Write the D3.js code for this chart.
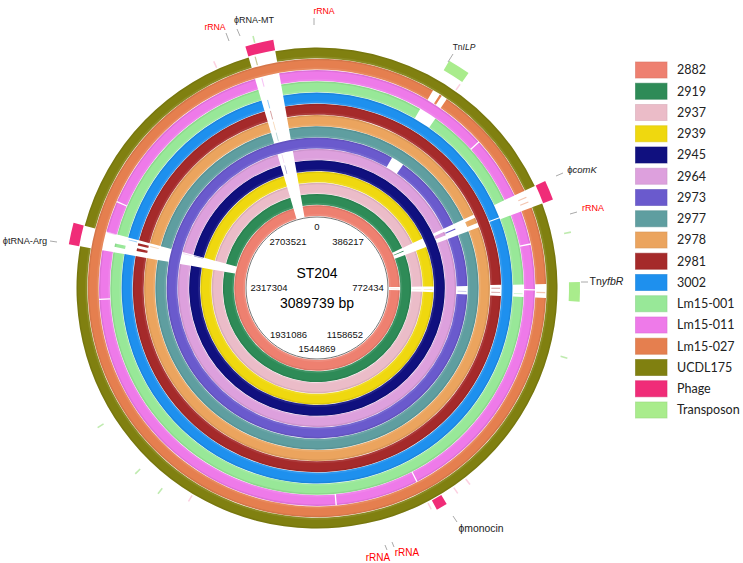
<!DOCTYPE html>
<html>
<head>
<meta charset="utf-8">
<script src="https://cdn.jsdelivr.net/npm/d3@7"></script>
<style>
  html, body { margin: 0; padding: 0; background: #fff; }
  svg { display: block; }
</style>
</head>
<body>
<div id="chart"></div>
<script>
// Strains, inner ring first
const strains = ["2882", "2919", "2937", "2939", "2945", "2964", "2973", "2977", "2978", "2981", "3002", "Lm15-001", "Lm15-011", "Lm15-027", "UCDL175"]
const strainColors = ["#ee8070", "#2e8b57", "#ebbcc8", "#efd80f", "#10107f", "#dda0dd", "#6a5acd", "#5f9ea0", "#eba45e", "#a52a2a", "#1e90ee", "#98e898", "#ee7ae9", "#e57f4f", "#808010"]

// Genome size and the ticks inside the circle
const genomeSize = 3089739
const tickLabels = ["0", "386217", "772434", "1158652", "1544869", "1931086", "2317304", "2703521"]

// Regions missing from each strain, in bp
const gaps2882 = [[766000, 786000], [2948000, 3004000]]
const gaps2919 = [[557000, 572000], [576000, 596000], [2403000, 2446000], [2948000, 3004000]]
const gaps2937 = [[557000, 596000], [766000, 790000], [2403000, 2446000], [2948000, 3004000]]
const gaps2939 = [[557000, 596000], [766000, 790000], [2403000, 2446000], [2948000, 3004000]]
const gaps2945 = [[2403000, 2446000], [2948000, 3004000]]
const gaps2964 = [[557000, 568000], [581000, 596000], [2403000, 2446000], [2948000, 3004000]]
const gaps2973 = [[257000, 300000], [557000, 572000], [576000, 596000], [766000, 794000]]
const gaps2977 = [[557000, 596000], [2403000, 2446000], [2948000, 3004000]]
const gaps2978 = [[557000, 567000], [583000, 596000], [2403000, 2446000], [2948000, 3004000]]
const gaps2981 = [[764000, 794000], [2403000, 2417000], [2424000, 2432000], [2438000, 2446000], [2948000, 3004000]]
const gaps3002 = [[590000, 593000], [2403000, 2446000], [2948000, 3004000]]
const gapsLm15001 = [[257000, 300000], [557000, 596000], [764000, 794000], [2403000, 2416000], [2424000, 2446000], [2948000, 3004000]]
const gapsLm15011 = [[410000, 413000], [557000, 596000], [671000, 674000], [775000, 778000], [1309000, 1312000], [1500000, 1503000], [2290000, 2293000], [2403000, 2446000], [2516000, 2519000], [2948000, 3004000]]
const gapsLm15027 = [[261000, 278000], [283000, 296000], [557000, 596000], [764000, 794000]]
const gapsUCDL175 = [[557000, 596000], [2403000, 2446000], [2948000, 3004000]]
const strainGaps = [gaps2882, gaps2919, gaps2937, gaps2939, gaps2945, gaps2964, gaps2973, gaps2977, gaps2978, gaps2981, gaps3002, gapsLm15001, gapsLm15011, gapsLm15027, gapsUCDL175]

// Short matches left inside the gaps: strain, position in bp
const sliverStrains = ["2882", "2937", "2939", "2973", "2981", "2981", "Lm15-001", "Lm15-027", "Lm15-027", "Lm15-027", "Lm15-011", "2964", "2945", "3002", "2978", "2964", "2977", "2978", "2981", "3002", "2945", "Lm15-011", "UCDL175"]
const sliverPositions = [777000, 778000, 778000, 782000, 772000, 783000, 785000, 781000, 570000, 581000, 2444000, 2440000, 2441000, 2439000, 2436000, 2962000, 2962000, 2962000, 2962000, 2962000, 2962000, 2962000, 2960000]

// Mobile elements on the outer track, in bp
const phageRegions = [[557000, 596000], [1279000, 1301000], [2403000, 2446000], [2948000, 3004000]]
const transposonRegions = [[259000, 302000], [761000, 798000]]
const phageTicks = [299500, 1218000, 1248000, 1309000, 1810000, 2878000]
const transposonTicks = [664400, 905400, 1867000, 1924000, 2037000, 2966000]

// Legend
const legendNames = strains.concat(["Phage", "Transposon"])
const legendColors = strainColors.concat(["#f02c78", "#a9ec8c"])

const width = 743
const height = 563
const cx = 317
const cy = 288

const svg = d3.select("#chart").append("svg")
  .attr("width", width)
  .attr("height", height)

const g = svg.append("g")
  .attr("transform", "translate(" + cx + "," + cy + ")")

// Position on the genome to angle, clockwise from the top
const angle = d3.scaleLinear()
  .domain([0, genomeSize])
  .range([0, 2 * Math.PI])

// One band per strain
const ring = d3.scaleBand()
  .domain(strains)
  .range([72, 240.5])
  .paddingInner(0.04)

const arc = d3.arc()

// Turn a sorted list of gaps into the pieces that are still there.
// The last piece runs over the origin so there is no seam at the top
function keptPieces(gaps) {
  const pieces = []
  for (let i = 0; i < gaps.length - 1; i++) {
    pieces.push([gaps[i][1], gaps[i + 1][0]])
  }
  pieces.push([gaps[gaps.length - 1][1], genomeSize + gaps[0][0]])
  return pieces
}

function drawPieces(parent, pieces, inner, outer, fill, opacity) {
  parent.append("g")
    .selectAll("path")
    .data(pieces)
    .enter().append("path")
    .attr("d", function (d) {
      return arc({ innerRadius: inner, outerRadius: outer, startAngle: angle(d[0]), endAngle: angle(d[1]) })
    })
    .attr("fill", fill)
    .attr("fill-opacity", opacity)
}

// Rings, each with a slightly darker outer edge and a lighter inner edge
strains.forEach(function (name, i) {
  const inner = ring(name)
  const outer = inner + ring.bandwidth()
  const pieces = keptPieces(strainGaps[i])
  const group = g.append("g").attr("class", "ring")
  drawPieces(group, pieces, inner, outer, strainColors[i], 1)
  drawPieces(group, pieces, outer - 1.5, outer, "#000", 0.07)
  drawPieces(group, pieces, inner, inner + 2, "#fff", 0.08)
})

// Slivers inside the gaps
g.selectAll("path.sliver")
  .data(sliverPositions)
  .enter().append("path")
  .attr("class", "sliver")
  .attr("d", function (d, i) {
    const inner = ring(sliverStrains[i])
    return arc({ innerRadius: inner + 1, outerRadius: inner + ring.bandwidth() - 1, startAngle: angle(d), endAngle: angle(d + 2500) })
  })
  .attr("fill", function (d, i) { return strainColors[strains.indexOf(sliverStrains[i])] })
  .attr("fill-opacity", 0.45)

// Backbone circle
g.append("circle")
  .attr("r", 71)
  .attr("fill", "#fff")
  .attr("stroke", "#666")
  .attr("stroke-width", 0.9)

// Phage and transposon blocks
g.selectAll("path.phage")
  .data(phageRegions)
  .enter().append("path")
  .attr("class", "phage")
  .attr("d", function (d) {
    return arc({ innerRadius: 241.5, outerRadius: 252, startAngle: angle(d[0]), endAngle: angle(d[1]) })
  })
  .attr("fill", "#f02c78")

g.selectAll("path.transposon")
  .data(transposonRegions)
  .enter().append("path")
  .attr("class", "transposon")
  .attr("d", function (d) {
    return arc({ innerRadius: 252, outerRadius: 263, startAngle: angle(d[0]), endAngle: angle(d[1]) })
  })
  .attr("fill", "#a9ec8c")

// Faint small hits on the outer tracks
g.selectAll("path.phage-tick")
  .data(phageTicks)
  .enter().append("path")
  .attr("class", "phage-tick")
  .attr("d", function (d) {
    return arc({ innerRadius: 242, outerRadius: 249, startAngle: angle(d), endAngle: angle(d + 3000) })
  })
  .attr("fill", "#f02c78")
  .attr("fill-opacity", 0.22)

g.selectAll("path.transposon-tick")
  .data(transposonTicks)
  .enter().append("path")
  .attr("class", "transposon-tick")
  .attr("d", function (d) {
    return arc({ innerRadius: 253, outerRadius: 260, startAngle: angle(d), endAngle: angle(d + 3000) })
  })
  .attr("fill", "#7fd860")
  .attr("fill-opacity", 0.5)

// Tick labels, placed by hand since they sit at odd spots
const tickSpots = [[0, -61], [31, -46.5], [51, 0], [28, 47], [0, 61], [-28.5, 47], [-48, 0], [-29, -46.5]]
g.selectAll("text.tick")
  .data(tickLabels)
  .enter().append("text")
  .attr("class", "tick")
  .attr("x", function (d, i) { return tickSpots[i][0] })
  .attr("y", function (d, i) { return tickSpots[i][1] })
  .attr("dy", "0.35em")
  .attr("text-anchor", "middle")
  .style("font", "9.5px 'Liberation Sans'")
  .style("fill", "#111")
  .text(function (d) { return d })

g.append("text")
  .attr("y", -15)
  .attr("dy", "0.35em")
  .attr("text-anchor", "middle")
  .style("font", "14px 'Liberation Sans'")
  .text("ST204")

g.append("text")
  .attr("y", 15)
  .attr("dy", "0.35em")
  .attr("text-anchor", "middle")
  .style("font", "14px 'Liberation Sans'")
  .text("3089739 bp")

// Feature labels
const labelNames = ["rRNA", "ϕRNA-MT", "rRNA", "TnILP", "ϕcomK", "rRNA", "TnyfbR", "ϕtRNA-Arg", "ϕmonocin", "rRNA", "rRNA"]
const labelItalic = ["", "", "", "ILP", "comK", "", "yfbR", "", "", "", ""]
const labelColors = ["red", "#222", "red", "#222", "#222", "red", "#222", "#222", "#222", "red", "red"]
const labelSizes = [8.7, 9, 8.7, 8.5, 9.5, 9, 10.5, 9.2, 10.4, 10, 10]
const labelSpots = [[215, 27], [254, 20], [324, 11], [464, 47], [582, 170], [593, 208], [606.5, 281], [25, 241], [481, 528], [378, 557], [407, 552]]
const leaders = [[[226, 33], [229, 41]], [[237, 29], [240, 36]], [[314, 18], [314, 25]], [[453, 54], [448, 62]], [[556, 176], [563, 173]], [[570, 214], [577, 212]], [[581, 282], [588, 282]], [[50, 241], [57, 242]], [[453, 516], [457, 522]], [[385, 545], [387, 550]], [[392, 542], [394, 547]]]

svg.selectAll("line.leader")
  .data(leaders)
  .enter().append("line")
  .attr("class", "leader")
  .attr("x1", function (d) { return d[0][0] })
  .attr("y1", function (d) { return d[0][1] })
  .attr("x2", function (d) { return d[1][0] })
  .attr("y2", function (d) { return d[1][1] })
  .attr("stroke", "#aaa")
  .attr("stroke-width", 1)

labelNames.forEach(function (name, i) {
  const t = svg.append("text")
    .attr("x", labelSpots[i][0])
    .attr("y", labelSpots[i][1])
    .attr("dy", "0.35em")
    .attr("text-anchor", "middle")
    .style("font", labelSizes[i] + "px 'Liberation Sans'")
    .style("fill", labelColors[i])
  const it = labelItalic[i]
  if (it) {
    t.append("tspan").text(name.slice(0, name.length - it.length))
    t.append("tspan").style("font-style", "italic").text(it)
  } else {
    t.text(name)
  }
})

// Legend
const legendY = d3.scalePoint()
  .domain(legendNames)
  .range([70, 410])

const legend = svg.selectAll("g.legend")
  .data(legendNames)
  .enter().append("g")
  .attr("class", "legend")
  .attr("transform", function (d) { return "translate(635.5," + legendY(d) + ")" })

legend.append("rect")
  .attr("y", -8)
  .attr("width", 31.5)
  .attr("height", 16)
  .attr("fill", function (d, i) { return legendColors[i] })
  .attr("stroke", function (d, i) { return d3.color(legendColors[i]).darker(0.25).formatHex() })
  .attr("stroke-opacity", 0.6)

legend.append("text")
  .attr("x", 41.5)
  .attr("dy", "0.35em")
  .style("font", "12.5px Lato")
  .style("fill", "#222")
  .text(function (d) { return d })
</script>
</body>
</html>
